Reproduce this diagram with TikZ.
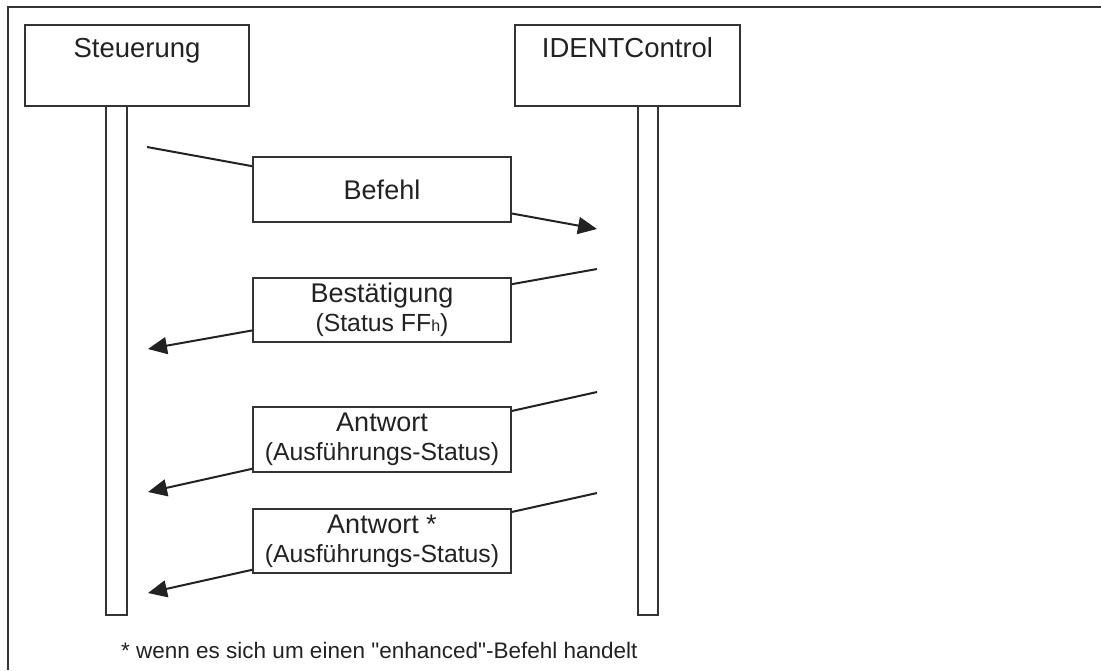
\documentclass[tikz,border=0pt]{standalone}
\usepackage{fontspec}
\setmainfont{Liberation Sans}[Ligatures=TeXOff]
\usetikzlibrary{arrows.meta}
\definecolor{ink}{HTML}{222222}
\definecolor{linec}{HTML}{333333}
\tikzset{
  frameline/.style={draw=linec, line width=1.4pt},
  headbox/.style={draw=linec, line width=1.4pt, rectangle, inner sep=0pt},
  lifeline/.style={draw=linec, line width=1.4pt, rectangle, inner sep=0pt, fill=white},
  msgbox/.style={draw=linec, line width=1.4pt, rectangle, fill=white, inner sep=0pt,
    minimum width=258pt, align=center, text=ink,
    font=\fontsize{27}{29}\selectfont},
  msg/.style={draw=ink, line width=2pt, -{Triangle[length=19pt,width=17pt]}},
  title/.style={anchor=base, text=ink, inner sep=0pt, font=\fontsize{27.5}{30}\selectfont},
  note/.style={anchor=base west, text=ink, inner sep=0pt, font=\fontsize{22.5}{26}\selectfont}
}
\newcommand{\second}[1]{{\fontsize{24.8}{29}\selectfont #1}}
\begin{document}
\begin{tikzpicture}[x=1pt, y=-1pt]
\useasboundingbox (0,0) rectangle (1101,670);
% frame
\draw[frameline] (8,670) -- (8,7) -- (1101,7);

% header boxes
\node[headbox, minimum width=224pt, minimum height=81pt] (ctrl) at (137,65.5) {};
\node[title] (ctrlt) at (137,57) {Steuerung};
\node[headbox, minimum width=225pt, minimum height=81pt] (ident) at (627.5,65.5) {};
\node[title] (identt) at (627.5,57) {IDENTControl};

% lifelines
\node[lifeline, minimum width=21pt, minimum height=509pt] (lifes) at (116.5,360.5) {};
\node[lifeline, minimum width=20pt, minimum height=509pt] (lifei) at (648,360.5) {};

% connector end points
\coordinate (s1) at (147,147);
\coordinate (i1) at (597,229);
\coordinate (i2) at (597,269);
\coordinate (s2) at (148,349);
\coordinate (i3) at (597,392);
\coordinate (s3) at (148,492);
\coordinate (i4) at (597,493);
\coordinate (s4) at (148,593);

% messages
\draw[msg] (s1) -- (i1);
\draw[msg] (i2) -- (s2);
\draw[msg] (i3) -- (s3);
\draw[msg] (i4) -- (s4);

% message boxes
\node[msgbox, minimum height=65pt] (befehl) at (382,189.5) {Befehl};
\node[msgbox, minimum height=64pt] (best) at (382,310) {Best\"atigung\\\second{(Status FF{\fontsize{16}{16}\selectfont h})}};
\node[msgbox, minimum height=65pt] (antw) at (382,439.5) {Antwort\\\second{(Ausf\"uhrungs-Status)}};
\node[msgbox, minimum height=64pt] (antws) at (382,541) {Antwort *\\\second{(Ausf\"uhrungs-Status)}};

% footnote
\node[note] (fn) at (121,658) {* wenn es sich um einen "enhanced"-Befehl handelt};
\end{tikzpicture}
\end{document}
